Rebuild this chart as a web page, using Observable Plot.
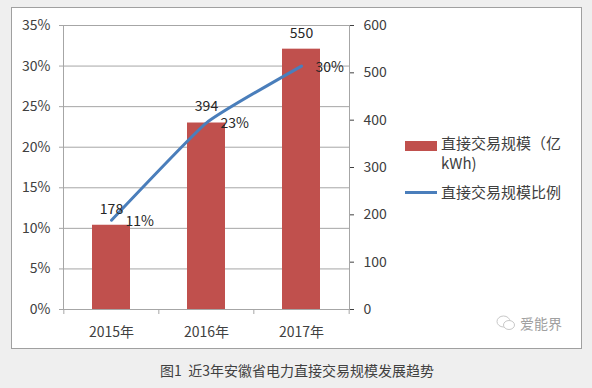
<!DOCTYPE html>
<html>
<head>
<meta charset="utf-8">
<script src="https://cdn.jsdelivr.net/npm/d3@7"></script>
<script src="https://cdn.jsdelivr.net/npm/@observablehq/plot@0.6"></script>
<style>
  html, body { margin: 0; padding: 0; background: #efefef; }
  body { width: 592px; height: 388px; overflow: hidden; font-family: "Noto Sans CJK SC", sans-serif; }
  #wrap { position: relative; width: 592px; height: 388px; }
  #box { position: absolute; left: 11px; top: 7px; width: 569px; height: 340px; background: #fff; border: 1px solid #a0a0a0; }
  #chart { position: absolute; left: 0; top: 0; }
  .leg { position: absolute; font-size: 15px; color: #404040; line-height: 20px; }
  #caption { position: absolute; left: 0; width: 594px; top: 360px; text-align: center; font-size: 14px; line-height: 20px; color: #404040; }
  #wm { position: absolute; left: 496px; top: 313px; font-size: 14px; color: #a0a0a0; display: flex; align-items: center; gap: 4px; }
</style>
</head>
<body>
<div id="wrap">
  <div id="box"></div>
  <div id="chart"></div>
  <div class="leg" style="left:405px;top:141px;width:32px;height:10px;background:#c0504d;"></div>
  <div class="leg" style="left:441px;top:133px;">直接交易规模（亿<br>kWh)</div>
  <div class="leg" style="left:405px;top:191px;width:32px;height:3px;background:#4a7ebb;"></div>
  <div class="leg" style="left:441px;top:182px;">直接交易规模比例</div>
  <div id="wm"><svg width="20" height="16" viewBox="0 0 20 16"><ellipse cx="7.5" cy="6.5" rx="6.5" ry="5.5" fill="none" stroke="#c8c8c8" stroke-width="1"/><ellipse cx="13" cy="10" rx="5.5" ry="4.5" fill="#fff" stroke="#c8c8c8" stroke-width="1"/></svg><span>爱能界</span></div>
  <div id="caption">图1&nbsp;&nbsp;近3年安徽省电力直接交易规模发展趋势</div>
</div>
<script>
const years = ["2015年", "2016年", "2017年"];
const volume = [178, 394, 550];          // 亿kWh
const share = [11, 23, 30];              // %
const pctTicks = [0, 5, 10, 15, 20, 25, 30, 35];
const volTicks = [0, 100, 200, 300, 400, 500, 600];

const volMax = 600, pctMax = 35;
const toY = p => p * volMax / pctMax;

const rows = years.map((y, i) => ({year: y, vol: volume[i], pct: share[i]}));

const W = 592, H = 350;
const mL = 63, mR = 243, mT = 25, mB = 41;
const step = (W - mL - mR) / years.length;

const gray = "#a6a6a6";
const textColor = "#404040";

const boundaries = years.map((y, i) => ({year: y, dx: -step / 2})).concat([{year: years[years.length - 1], dx: step / 2}]);

const chart = Plot.plot({
  width: W,
  height: H,
  marginLeft: mL,
  marginRight: mR,
  marginTop: mT,
  marginBottom: mB,
  style: {background: "transparent", fontFamily: "'Noto Sans CJK SC', sans-serif", fontSize: "14px", color: textColor, overflow: "visible"},
  x: {domain: years, paddingInner: 0.6, paddingOuter: 0.3, label: null},
  y: {domain: [0, volMax], label: null},
  marks: [
    Plot.gridY(pctTicks.map(toY), {stroke: gray, strokeOpacity: 1}),
    Plot.barY(rows, {x: "year", y: "vol", fill: "#c0504d"}),
    Plot.frame({stroke: gray}),
    ...boundaries.map(b => Plot.ruleX([b], {x: "year", dx: b.dx, y1: 0, y2: -volMax * 5 / 284, stroke: gray})),
    Plot.axisY({anchor: "left", ticks: pctTicks.map(toY), tickFormat: d => Math.round(d * pctMax / volMax) + "%", tickSize: 4, tickPadding: 9, stroke: gray, label: null}),
    Plot.axisY({anchor: "right", ticks: volTicks, tickFormat: d => String(d), tickSize: 4, tickPadding: 10, label: null}),
    Plot.axisX({tickSize: 0, tickPadding: 18, label: null}),
    Plot.line(rows, {x: "year", y: d => toY(d.pct), stroke: "#4a7ebb", strokeWidth: 3, curve: "cardinal", tension: 0.6}),
    Plot.text(rows, {x: "year", y: "vol", text: d => String(d.vol), dy: -16, fill: "#262626", fontSize: 14}),
    Plot.text(rows, {x: "year", y: d => toY(d.pct), text: d => d.pct + "%", dx: 14, dy: 1, textAnchor: "start", fill: "#262626", fontSize: 14})
  ]
});
document.getElementById("chart").appendChild(chart);
</script>
</body>
</html>
